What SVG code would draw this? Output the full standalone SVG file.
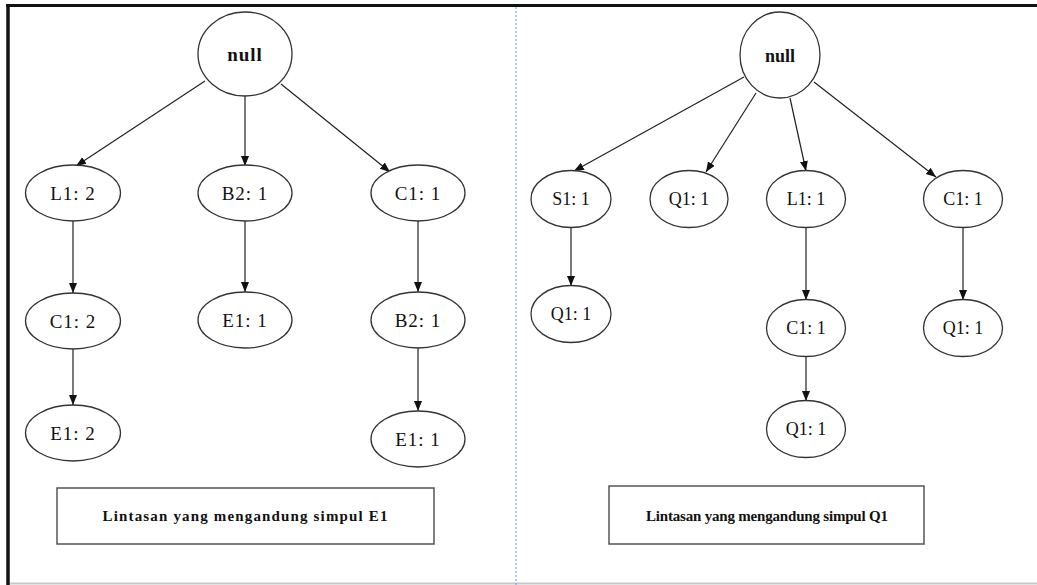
<svg xmlns="http://www.w3.org/2000/svg" width="1037" height="585" viewBox="0 0 1037 585">
<style>
.n ellipse{fill:#fff;stroke:#333;stroke-width:1.3}
.n text{font-family:"Liberation Serif","Times New Roman",serif;fill:#111;text-anchor:middle}
.l text{font-size:19px;letter-spacing:1px}
.r text{font-size:18px}
.root text{font-weight:bold}
.e line{stroke:#222;stroke-width:1.2;marker-end:url(#ah)}
.box rect{fill:#fff;stroke:#555;stroke-width:1.5}
.box text{font-family:"Liberation Serif","Times New Roman",serif;font-weight:bold;font-size:15px;fill:#111;text-anchor:middle}
</style>
<defs>
<marker id="ah" markerUnits="userSpaceOnUse" markerWidth="10" markerHeight="10" viewBox="0 0 10 10" refX="10" refY="5" orient="auto">
<path d="M0,1 L10,5 L0,9 Z" fill="#111"/>
</marker>
</defs>
<rect width="1037" height="585" fill="#fff"/>
<g id="frame">
<line x1="6" y1="5.5" x2="1037" y2="5.5" stroke="#111" stroke-width="3"/>
<line x1="8" y1="4" x2="8" y2="585" stroke="#111" stroke-width="3.5"/>
<line x1="10" y1="583.5" x2="1037" y2="583.5" stroke="#c8c8c8" stroke-width="2"/>
<line x1="516" y1="7" x2="516" y2="585" stroke="#7fa6e6" stroke-width="1.2" stroke-dasharray="2 2"/>
</g>
<g id="connectors" class="e">
<line x1="205" y1="81" x2="76" y2="166"/>
<line x1="245" y1="96" x2="245" y2="166"/>
<line x1="281" y1="84" x2="390" y2="172"/>
<line x1="73" y1="221" x2="73" y2="293"/>
<line x1="245" y1="221" x2="245" y2="292"/>
<line x1="418" y1="221" x2="418" y2="292"/>
<line x1="73" y1="349" x2="73" y2="405"/>
<line x1="418" y1="348" x2="418" y2="411"/>
<line x1="744" y1="77" x2="574" y2="171"/>
<line x1="756" y1="93" x2="706" y2="172"/>
<line x1="790" y1="98" x2="806" y2="171"/>
<line x1="814" y1="82" x2="936" y2="177"/>
<line x1="571" y1="228" x2="571" y2="286"/>
<line x1="806" y1="228" x2="806" y2="300"/>
<line x1="963" y1="228" x2="963" y2="300"/>
<line x1="806" y1="357" x2="806" y2="401"/>
</g>
<g id="L-null" class="n l root"><ellipse cx="245" cy="54" rx="47" ry="42"/><text x="245" y="61" font-size="24">null</text></g>
<g id="L-L1" class="n l"><ellipse cx="73" cy="193" rx="47.5" ry="28"/><text x="73" y="200">L1: 2</text></g>
<g id="L-B2" class="n l"><ellipse cx="245" cy="193" rx="47" ry="28"/><text x="245" y="200">B2: 1</text></g>
<g id="L-C1" class="n l"><ellipse cx="418" cy="193" rx="47" ry="28"/><text x="418" y="200">C1: 1</text></g>
<g id="L-C1b" class="n l"><ellipse cx="73" cy="321" rx="47.5" ry="28"/><text x="73" y="328">C1: 2</text></g>
<g id="L-E1a" class="n l"><ellipse cx="245" cy="320" rx="47" ry="28"/><text x="245" y="327">E1: 1</text></g>
<g id="L-B2b" class="n l"><ellipse cx="418" cy="320" rx="47" ry="28"/><text x="418" y="327">B2: 1</text></g>
<g id="L-E1b" class="n l"><ellipse cx="73" cy="433" rx="47.5" ry="28"/><text x="73" y="440">E1: 2</text></g>
<g id="L-E1c" class="n l"><ellipse cx="418" cy="439" rx="47" ry="28"/><text x="418" y="446">E1: 1</text></g>
<g id="L-box" class="box"><rect x="57" y="488" width="377" height="56"/><text x="245" y="521" textLength="285" lengthAdjust="spacing">Lintasan yang mengandung simpul E1</text></g>
<g id="R-null" class="n r root"><ellipse cx="780" cy="55" rx="40" ry="43"/><text x="780" y="62" font-size="22">null</text></g>
<g id="R-S1" class="n r"><ellipse cx="571" cy="199" rx="40" ry="28.5"/><text x="571" y="205">S1: 1</text></g>
<g id="R-Q1a" class="n r"><ellipse cx="689" cy="199" rx="39" ry="28.5"/><text x="689" y="205">Q1: 1</text></g>
<g id="R-L1" class="n r"><ellipse cx="806" cy="199" rx="39.5" ry="28.5"/><text x="806" y="205">L1: 1</text></g>
<g id="R-C1" class="n r"><ellipse cx="963" cy="199" rx="39.5" ry="28.5"/><text x="963" y="205">C1: 1</text></g>
<g id="R-Q1b" class="n r"><ellipse cx="571" cy="314" rx="40" ry="28.5"/><text x="571" y="320">Q1: 1</text></g>
<g id="R-C1b" class="n r"><ellipse cx="806" cy="328" rx="39.5" ry="28.5"/><text x="806" y="334">C1: 1</text></g>
<g id="R-Q1c" class="n r"><ellipse cx="963" cy="328" rx="39.5" ry="28.5"/><text x="963" y="334">Q1: 1</text></g>
<g id="R-Q1d" class="n r"><ellipse cx="806" cy="429" rx="39.5" ry="28.5"/><text x="806" y="435">Q1: 1</text></g>
<g id="R-box" class="box"><rect x="609" y="486" width="315" height="58"/><text x="767" y="521" textLength="242" lengthAdjust="spacing">Lintasan yang mengandung simpul Q1</text></g>
</svg>
